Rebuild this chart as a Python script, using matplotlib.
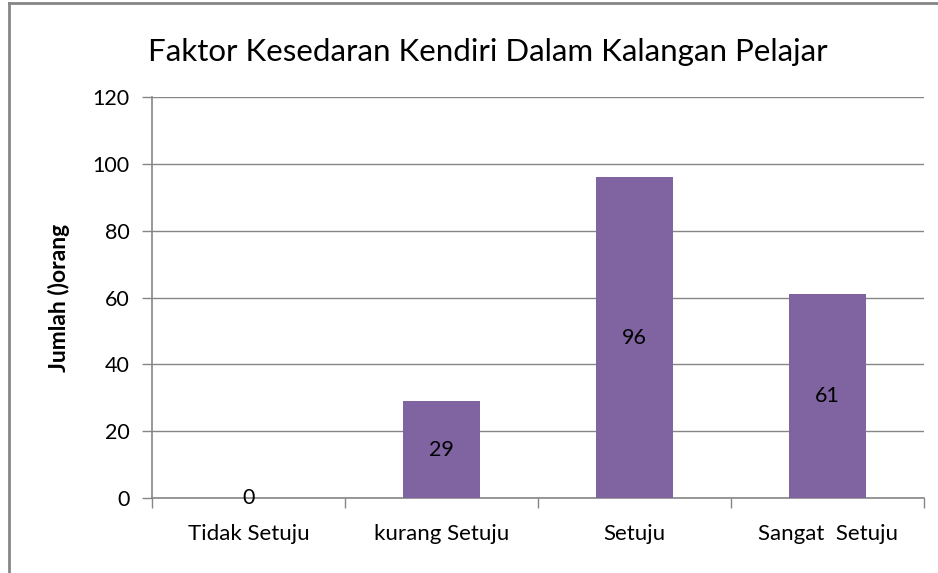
import matplotlib.pyplot as plt
from matplotlib.lines import Line2D

categories = ['Tidak Setuju', 'kurang Setuju', 'Setuju', 'Sangat  Setuju']
counts = [0, 29, 96, 61]
yticks = [0, 20, 40, 60, 80, 100, 120]

bar_color = '#8064A2'
axis_color = '#868686'

plt.rcParams['font.family'] = ['Lato', 'DejaVu Sans']

fig = plt.figure(figsize=(9.38, 5.73), dpi=100)
ax = fig.add_axes([152 / 938, 1 - 498 / 573, 772 / 938, 401 / 573])

x = list(range(len(categories)))
bars = ax.bar(x, counts, width=0.4, color=bar_color, zorder=3)

for xi, v in zip(x, counts):
    ax.text(xi, v / 2, str(v), ha='center', va='center', fontsize=15.5, color='black', zorder=4)

ax.set_xlim(-0.5, len(categories) - 0.5)
ax.set_ylim(0, 120)
ax.set_yticks(yticks)
ax.set_yticklabels([str(t) for t in yticks], fontsize=15.5)
ax.yaxis.grid(True, color=axis_color, linewidth=1, zorder=0)

# category labels centred, ticks on boundaries
ax.set_xticks(x)
ax.set_xticklabels(categories, fontsize=16)
ax.tick_params(axis='x', length=0, pad=19)
ax.set_xticks([i - 0.5 for i in range(len(categories) + 1)], minor=True)
ax.tick_params(axis='x', which='minor', length=7, color=axis_color, width=1)
ax.tick_params(axis='y', length=7, color=axis_color, width=1, pad=9)

for side in ['top', 'right']:
    ax.spines[side].set_visible(False)
for side in ['left', 'bottom']:
    ax.spines[side].set_color(axis_color)
    ax.spines[side].set_linewidth(1.2)

ax.set_ylabel('Jumlah ()orang', fontsize=16.5, fontweight='bold', labelpad=16)
fig.text(148 / 938, 1 - 52 / 573, 'Faktor Kesedaran Kendiri Dalam Kalangan Pelajar',
         fontsize=22.5, ha='left', va='center')

# chart border (left and top edges visible in the crop)
fig.add_artist(Line2D([9 / 938, 9 / 938], [0, 1 - 3 / 573], transform=fig.transFigure,
                      color=axis_color, linewidth=2))
fig.add_artist(Line2D([9 / 938, 1], [1 - 3 / 573, 1 - 3 / 573], transform=fig.transFigure,
                      color=axis_color, linewidth=2))

fig.savefig('out.png', dpi=100)
